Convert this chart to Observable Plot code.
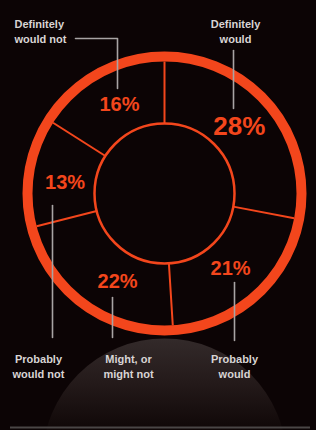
<!DOCTYPE html>
<html>
<head>
<meta charset="utf-8">
<script src="https://cdn.jsdelivr.net/npm/d3@7"></script>
<script src="https://cdn.jsdelivr.net/npm/@observablehq/plot@0.6"></script>
<style>
  html, body { margin: 0; padding: 0; background: #0c0405; }
  #chart { width: 316px; height: 430px; overflow: hidden; }
</style>
</head>
<body>
<div id="chart"></div>
<script>
// ---- data (clockwise from 12 o'clock) ----
const categories = ["Definitely would", "Probably would", "Might, or might not", "Probably would not", "Definitely would not"];
const values = [28, 21, 22, 13, 16];
const labelLines = ["Definitely\nwould", "Probably\nwould", "Might, or\nmight not", "Probably\nwould not", "Definitely\nwould not"];

// ---- layout / style ----
const W = 316, H = 430;
const CX = 164, CY = 193;            // donut centre in pixels
const R_IN = 70, R_OUT = 132, RING_R = 137, RING_W = 10, LABEL_R = 100;
const labelAngleNudge = [-2, 0, -8, -3, 2];
const ORANGE = "#f3461c";
const GREY = "#d8d4d4";
const LEADER = "#a8a4a4";
// annotation layout (pixel offsets from the centre)
const annot = [
  {text: [71, -163], anchor: "middle", leader: [[69, -143], [69, -85]]},
  {text: [70, 172], anchor: "middle", leader: [[70, 89], [70, 147]]},
  {text: [-36, 172], anchor: "middle", leader: [[-52, 104], [-52, 144]]},
  {text: [-126, 172], anchor: "middle", leader: [[-112, 12], [-112, 144]]},
  {text: [-150, -163], anchor: "start", leader: [[-89, -155], [-47, -155], [-47, -105]]}
];

const total = d3.sum(values);
let acc = 0;
const slices = categories.map((c, i) => {
  const a0 = acc / total * 2 * Math.PI;
  acc += values[i];
  const a1 = acc / total * 2 * Math.PI;
  const mid = (a0 + a1) / 2 + labelAngleNudge[i] * Math.PI / 180;
  return {category: c, value: values[i], pct: values[i] + "%", label: labelLines[i], a0, a1,
          lx: LABEL_R * Math.sin(mid), ly: -LABEL_R * Math.cos(mid),
          tx: annot[i].text[0], ty: annot[i].text[1], anchor: annot[i].anchor};
});
const dividers = slices.map(s => ({
  x1: R_IN * Math.sin(s.a0), y1: -R_IN * Math.cos(s.a0),
  x2: R_OUT * Math.sin(s.a0), y2: -R_OUT * Math.cos(s.a0)
}));
const leaders = slices.flatMap((s, i) => annot[i].leader.map(([x, y]) => ({id: i, x, y})));
const maxV = d3.max(values);

const chart = Plot.plot({
  width: W, height: H,
  margin: 0,
  style: {background: "#0c0405", overflow: "hidden"},
  x: {type: "linear", domain: [-CX, W - CX], range: [0, W], axis: null},
  y: {type: "linear", domain: [-CY, H - CY], range: [0, H], axis: null},
  marks: [
    // floor glow
    Plot.dot([{x: 0, y: 267}], {x: "x", y: "y", r: 122, fill: "url(#glow)", stroke: "none"}),
    Plot.ruleY([234], {x1: -154, x2: 146, stroke: "#4a4646", strokeWidth: 2}),
    // ring & inner circle
    Plot.dot([{x: 0, y: 0}], {x: "x", y: "y", r: RING_R, fill: "none", stroke: ORANGE, strokeWidth: RING_W}),
    Plot.dot([{x: 0, y: 0}], {x: "x", y: "y", r: R_IN, fill: "none", stroke: ORANGE, strokeWidth: 2.5}),
    Plot.link(dividers, {x1: "x1", y1: "y1", x2: "x2", y2: "y2", stroke: ORANGE, strokeWidth: 2}),
    // leader lines
    Plot.line(leaders, {x: "x", y: "y", z: "id", stroke: LEADER, strokeWidth: 1.6}),
    // percentages
    Plot.text(slices.filter(d => d.value !== maxV), {x: "lx", y: "ly", text: "pct", fill: ORANGE,
      fontSize: 20, fontWeight: "bold", fontFamily: "Liberation Sans, Arial, sans-serif", letterSpacing: "-0.5px"}),
    Plot.text(slices.filter(d => d.value === maxV), {x: "lx", y: "ly", text: "pct", fill: ORANGE,
      fontSize: 26, fontWeight: "bold", fontFamily: "Liberation Sans, Arial, sans-serif", letterSpacing: "-0.5px"}),
    // category annotations
    Plot.text(slices.filter(d => d.anchor === "middle"), {x: "tx", y: "ty", text: "label", fill: GREY,
      fontSize: 11, fontWeight: "bold", lineHeight: 1.35, textAnchor: "middle",
      fontFamily: "Liberation Sans, Arial, sans-serif", letterSpacing: "-0.3px"}),
    Plot.text(slices.filter(d => d.anchor === "start"), {x: "tx", y: "ty", text: "label", fill: GREY,
      fontSize: 11, fontWeight: "bold", lineHeight: 1.35, textAnchor: "start",
      fontFamily: "Liberation Sans, Arial, sans-serif", letterSpacing: "-0.3px"})
  ]
});

// gradient for the floor glow
const ns = "http://www.w3.org/2000/svg";
const defs = document.createElementNS(ns, "defs");
defs.innerHTML = `<linearGradient id="glow" x1="0" y1="0" x2="0" y2="1">
  <stop offset="0" stop-color="#332a2a"/>
  <stop offset="0.18" stop-color="#241a1a"/>
  <stop offset="0.38" stop-color="#0f0707"/>
  <stop offset="1" stop-color="#0c0405"/>
</linearGradient>`;
chart.insertBefore(defs, chart.firstChild);
document.getElementById("chart").appendChild(chart);
</script>
</body>
</html>
